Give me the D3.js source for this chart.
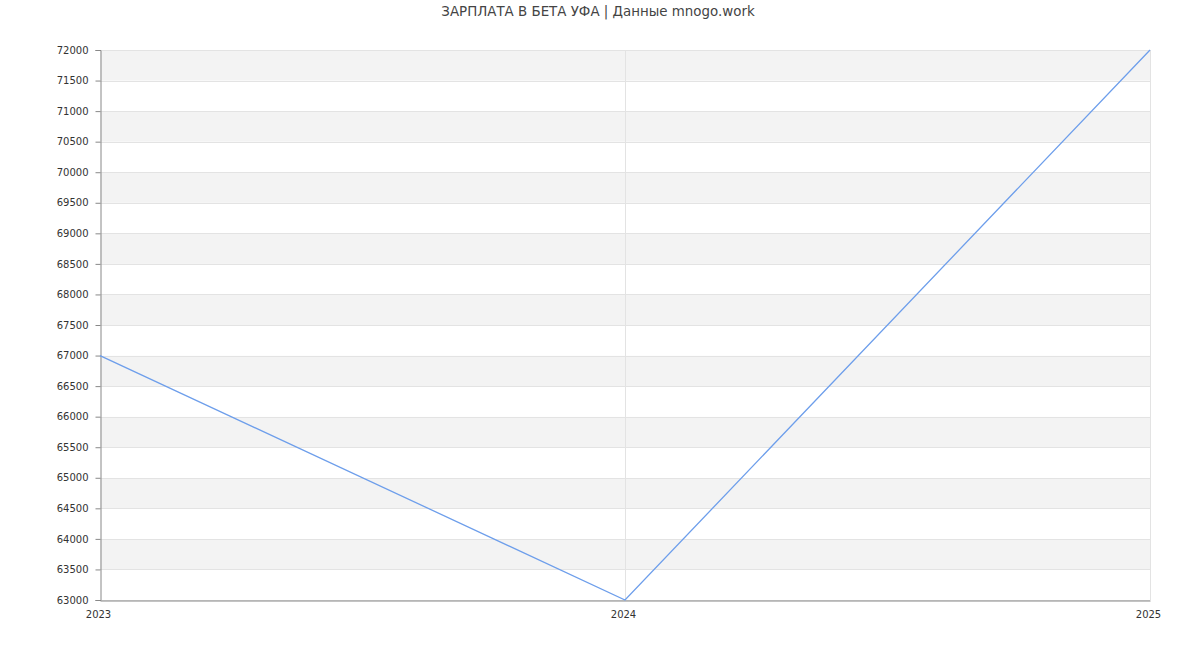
<!DOCTYPE html>
<html><head><meta charset="utf-8">
<script src="https://cdn.jsdelivr.net/npm/d3@7"></script>
<style>body{margin:0;background:#fff;font-family:"DejaVu Sans",sans-serif;}</style>
</head><body><svg id="c" width="1200" height="650"></svg>
<script>
const years = [2023, 2024, 2025];
const salaries = [67000, 63000, 72000];
const yTicks = d3.range(63000, 72001, 500);
const title = "ЗАРПЛАТА В БЕТА УФА | Данные mnogo.work";

const svg = d3.select("#c");
const m = {l:100, r:50, t:50, b:50};
const W = 1200, H = 650;
const x = d3.scaleLinear().domain([2023, 2025]).range([m.l, W - m.r]);
const y = d3.scaleLinear().domain([63000, 72000]).range([H - m.b, m.t]);

// bands
const bands = yTicks.slice(0, -1);
svg.append("g").selectAll("rect").data(bands).enter().append("rect")
  .attr("x", m.l).attr("width", W - m.r - m.l)
  .attr("y", d => y(d + 500)).attr("height", d => y(d) - y(d + 500))
  .attr("fill", (d, i) => (yTicks.length - 2 - i) % 2 === 0 ? "#f3f3f3" : "#ffffff");

// horizontal grid
svg.append("g").selectAll("line").data(yTicks).enter().append("line")
  .attr("x1", m.l).attr("x2", W - m.r)
  .attr("y1", d => Math.round(y(d)) + 0.5).attr("y2", d => Math.round(y(d)) + 0.5)
  .attr("stroke", "#e3e3e3");

// vertical grid
svg.append("g").selectAll("line").data(years.slice(1)).enter().append("line")
  .attr("x1", d => Math.round(x(d)) + 0.5).attr("x2", d => Math.round(x(d)) + 0.5)
  .attr("y1", m.t).attr("y2", H - m.b)
  .attr("stroke", "#e3e3e3");

// y axis
const ya = svg.append("g").attr("transform", `translate(${m.l + 0.5},0)`)
  .call(d3.axisLeft(y).tickValues(yTicks).tickFormat(d3.format("d")).tickSize(5).tickPadding(7));
ya.select(".domain").attr("stroke", "#888");
ya.selectAll(".tick line").attr("stroke", "#888");
ya.selectAll("text").attr("fill", "#333").style("font-size", "10px").style("font-family", "DejaVu Sans");

// x axis
const xa = svg.append("g").attr("transform", `translate(0,${H - m.b + 0.5})`)
  .call(d3.axisBottom(x).tickValues(years).tickFormat(d3.format("d")).tickSize(0).tickPadding(10));
xa.select(".domain").attr("stroke", "#888");
xa.selectAll("text").attr("fill", "#333").attr("dx", -2).style("font-size", "10px").style("font-family", "DejaVu Sans");

// line
const data = years.map((yr, i) => ({yr, v: salaries[i]}));
svg.append("path").datum(data)
  .attr("fill", "none").attr("stroke", "#6d9eeb").attr("stroke-width", 1.3)
  .attr("d", d3.line().x(d => x(d.yr)).y(d => y(d.v)));

svg.append("text").attr("x", 598).attr("y", 16).attr("text-anchor", "middle")
  .attr("fill", "#444").style("font-size", "13.4px").text(title);
</script></body></html>
